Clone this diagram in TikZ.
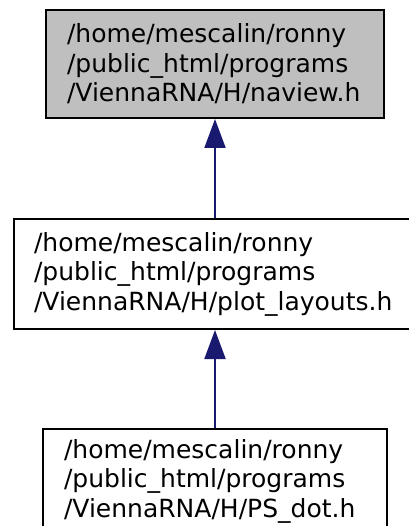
\documentclass[tikz,border=0pt]{standalone}
\usepackage{fontspec}
\setmainfont{DejaVu Sans}
\usetikzlibrary{arrows.meta,positioning}
\definecolor{cTop}{HTML}{BFBFBF}
\definecolor{cEdge}{HTML}{191970}

\begin{document}
\begin{tikzpicture}[
    font=\fontsize{25}{29.5}\selectfont,
    node distance=99pt,
    box/.style={draw=black, line width=2pt, align=left, inner xsep=21pt, inner ysep=10pt, fill=white},
    arr/.style={{Triangle[length=29pt, width=21pt]}-, line width=2pt, draw=cEdge, fill=cEdge}
]

\useasboundingbox (0,0) rectangle (408pt,-526pt);

\node[box, fill=cTop, anchor=north, text width=296pt, minimum height=108pt] (naview) at (215pt,-9pt) {/home/mescalin/ronny\\/public\_html/programs\\/ViennaRNA/H/naview.h};
\node[box, below=of naview, text width=362pt, inner xsep=20pt, minimum height=110pt] (layouts) {/home/mescalin/ronny\\/public\_html/programs\\/ViennaRNA/H/plot\_layouts.h};
\node[box, below=98pt of layouts, text width=302pt, minimum height=104pt] (psdot) {/home/mescalin/ronny\\/public\_html/programs\\/ViennaRNA/H/PS\_dot.h};

\draw[arr] (naview) -- (layouts);
\draw[arr] (layouts) -- (psdot);

\end{tikzpicture}
\end{document}
